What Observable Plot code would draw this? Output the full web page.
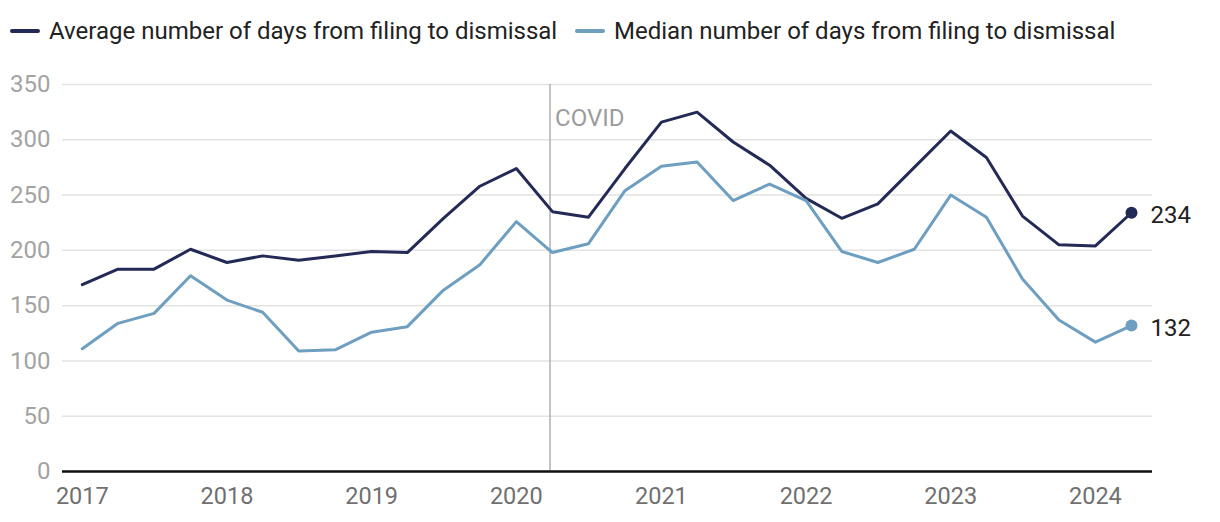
<!DOCTYPE html>
<html>
<head>
<meta charset="utf-8">
<script src="https://cdn.jsdelivr.net/npm/d3@7"></script>
<script src="https://cdn.jsdelivr.net/npm/@observablehq/plot@0.6"></script>
<style>
  html, body { margin: 0; padding: 0; background: #fff; }
  body { width: 1220px; height: 522px; overflow: hidden; font-family: Roboto, "Noto Sans", sans-serif; }
  #legend { position: relative; height: 60px; }
  .item { position: absolute; top: 15px; display: flex; align-items: center; font-size: 24px; line-height: 32px; color: #222; white-space: nowrap; }
  .sw { width: 30px; height: 4px; border-radius: 2px; margin-right: 9px; }
  svg { display: block; }
</style>
</head>
<body>
<div id="legend"></div>
<div id="chart"></div>
<script>
const quarters = [
  "2017-01-01","2017-04-01","2017-07-01","2017-10-01",
  "2018-01-01","2018-04-01","2018-07-01","2018-10-01",
  "2019-01-01","2019-04-01","2019-07-01","2019-10-01",
  "2020-01-01","2020-04-01","2020-07-01","2020-10-01",
  "2021-01-01","2021-04-01","2021-07-01","2021-10-01",
  "2022-01-01","2022-04-01","2022-07-01","2022-10-01",
  "2023-01-01","2023-04-01","2023-07-01","2023-10-01",
  "2024-01-01","2024-04-01"
];
const averageDays = [169,183,183,201,189,195,191,195,199,198,229,258,274,235,230,274,316,325,298,277,247,229,242,275,308,284,231,205,204,234];
const medianDays  = [111,134,143,177,155,144,109,110,126,131,164,187,226,198,206,254,276,280,245,260,245,199,189,201,250,230,174,137,117,132];
const seriesNames = ["Average number of days from filing to dismissal", "Median number of days from filing to dismissal"];
const seriesColors = ["#232a56", "#6e9ec0"];
const yTicks = [0,50,100,150,200,250,300,350];
const yearTicks = ["2017","2018","2019","2020","2021","2022","2023","2024"];
const covidDate = "2020-03-26";
const covidLabel = "COVID";

// legend
const legend = document.getElementById("legend");
const legendX = [10, 575];
seriesNames.forEach((n, i) => {
  const d = document.createElement("div");
  d.className = "item";
  d.style.left = legendX[i] + "px";
  d.innerHTML = `<span class="sw" style="background:${seriesColors[i]}"></span><span>${n}</span>`;
  legend.appendChild(d);
});

const parse = s => new Date(s + "T00:00:00Z");
const rows = [];
seriesNames.forEach((name, si) => {
  const vals = si === 0 ? averageDays : medianDays;
  quarters.forEach((q, i) => rows.push({date: parse(q), value: vals[i], series: name}));
});
const last = seriesNames.map((name, si) => ({
  date: parse(quarters[quarters.length - 1]),
  value: (si === 0 ? averageDays : medianDays)[quarters.length - 1],
  series: name
}));

const chart = Plot.plot({
  width: 1220,
  height: 462,
  marginTop: 24,
  marginBottom: 51,
  marginLeft: 62,
  marginRight: 68,
  style: {fontFamily: "Roboto, sans-serif", background: "#fff"},
  x: {type: "utc", domain: [parse("2016-11-12"), parse("2024-05-24")]},
  y: {domain: [0, 350]},
  color: {domain: seriesNames, range: seriesColors},
  marks: [
    Plot.gridY(yTicks, {stroke: "#e3e3e3", strokeOpacity: 1, strokeWidth: 1.5}),
    Plot.axisY(yTicks, {tickSize: 0, tickPadding: 12, fontSize: 24, color: "#a3a3a3", label: null}),
    Plot.axisX(yearTicks.map(y => parse(y + "-01-01")), {tickSize: 0, tickPadding: 16, fontSize: 23.5, color: "#707070", tickFormat: d3.utcFormat("%Y"), label: null}),
    Plot.ruleX([parse(covidDate)], {stroke: "#b0b0b0", strokeWidth: 1.5}),
    Plot.text([covidLabel], {x: () => parse(covidDate), frameAnchor: "top", lineAnchor: "middle", dy: 34, dx: 5, textAnchor: "start", fontSize: 24, fill: "#9c9c9c"}),
    Plot.ruleY([0], {stroke: "#111", strokeWidth: 2.5}),
    Plot.line(rows, {x: "date", y: "value", stroke: "series", strokeWidth: 3, curve: "linear"}),
    Plot.dot(last, {x: "date", y: "value", fill: "series", r: 6}),
    Plot.text(last, {x: "date", y: "value", text: d => String(d.value), dx: 19, dy: 3, textAnchor: "start", fontSize: 24, fill: "#222"})
  ]
});
document.getElementById("chart").appendChild(chart);
</script>
</body>
</html>
